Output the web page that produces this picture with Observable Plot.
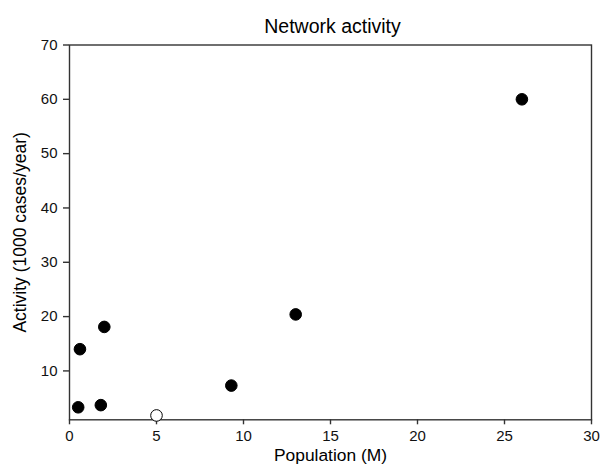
<!DOCTYPE html>
<html>
<head>
<meta charset="utf-8">
<script src="https://cdn.jsdelivr.net/npm/d3@7"></script>
<script src="https://cdn.jsdelivr.net/npm/@observablehq/plot@0.6"></script>
<style>
  html, body { margin: 0; padding: 0; background: #fff; }
  svg { font-family: "Liberation Sans", Arial, sans-serif; }
  #chart svg g[aria-label$="tick label"] { font-size: 15px !important; fill: #111; }
</style>
</head>
<body>
<div id="chart"></div>
<script>
const title = "Network activity";
const xLabel = "Population (M)";
const yLabel = "Activity (1000 cases/year)";
const population = [0.5, 0.6, 2.0, 1.8, 5.0, 9.3, 13.0, 26.0];
const activity   = [3.3, 14.0, 18.1, 3.7, 1.8, 7.3, 20.4, 60.0];
const filled     = [true, true, true, true, false, true, true, true];
const xTicks = [0, 5, 10, 15, 20, 25, 30];
const yTicks = [10, 20, 30, 40, 50, 60, 70];

const data = population.map((p, i) => ({x: p, y: activity[i], filled: filled[i]}));

const chart = Plot.plot({
  width: 601,
  height: 465,
  marginLeft: 69,
  marginRight: 10,
  marginTop: 44.5,
  marginBottom: 45.7,
  style: {fontFamily: "'Liberation Sans', Arial, sans-serif", fontSize: "15px", color: "#111", background: "#fff"},
  x: {domain: [0, 30], label: null},
  y: {domain: [1, 70], label: null},
  marks: [
    Plot.frame({stroke: "#333", strokeWidth: 1.4}),
    Plot.axisX({ticks: xTicks, tickSize: 5, tickPadding: 6, stroke: "#333", strokeWidth: 1.4, label: null}),
    Plot.axisY({ticks: yTicks, tickSize: 6, tickPadding: 6, stroke: "#333", strokeWidth: 1.4, label: null}),
    Plot.dot(data, {x: "x", y: "y", r: 5.8, fill: d => d.filled ? "#000" : "#fff", stroke: "#000", strokeWidth: 1}),
    Plot.text([title], {frameAnchor: "top", textAnchor: "middle", lineAnchor: "middle", dx: 2, dy: -18.7, fontSize: 19.5, fill: "#000"}),
    Plot.text([xLabel], {frameAnchor: "bottom", textAnchor: "middle", lineAnchor: "middle", dy: 35.3, fontSize: 17.4, fill: "#000"}),
    Plot.text([yLabel], {frameAnchor: "left", textAnchor: "middle", lineAnchor: "middle", dx: -49, rotate: -90, fontSize: 17.5, fill: "#000"})
  ]
});
document.getElementById("chart").appendChild(chart);
</script>
</body>
</html>
